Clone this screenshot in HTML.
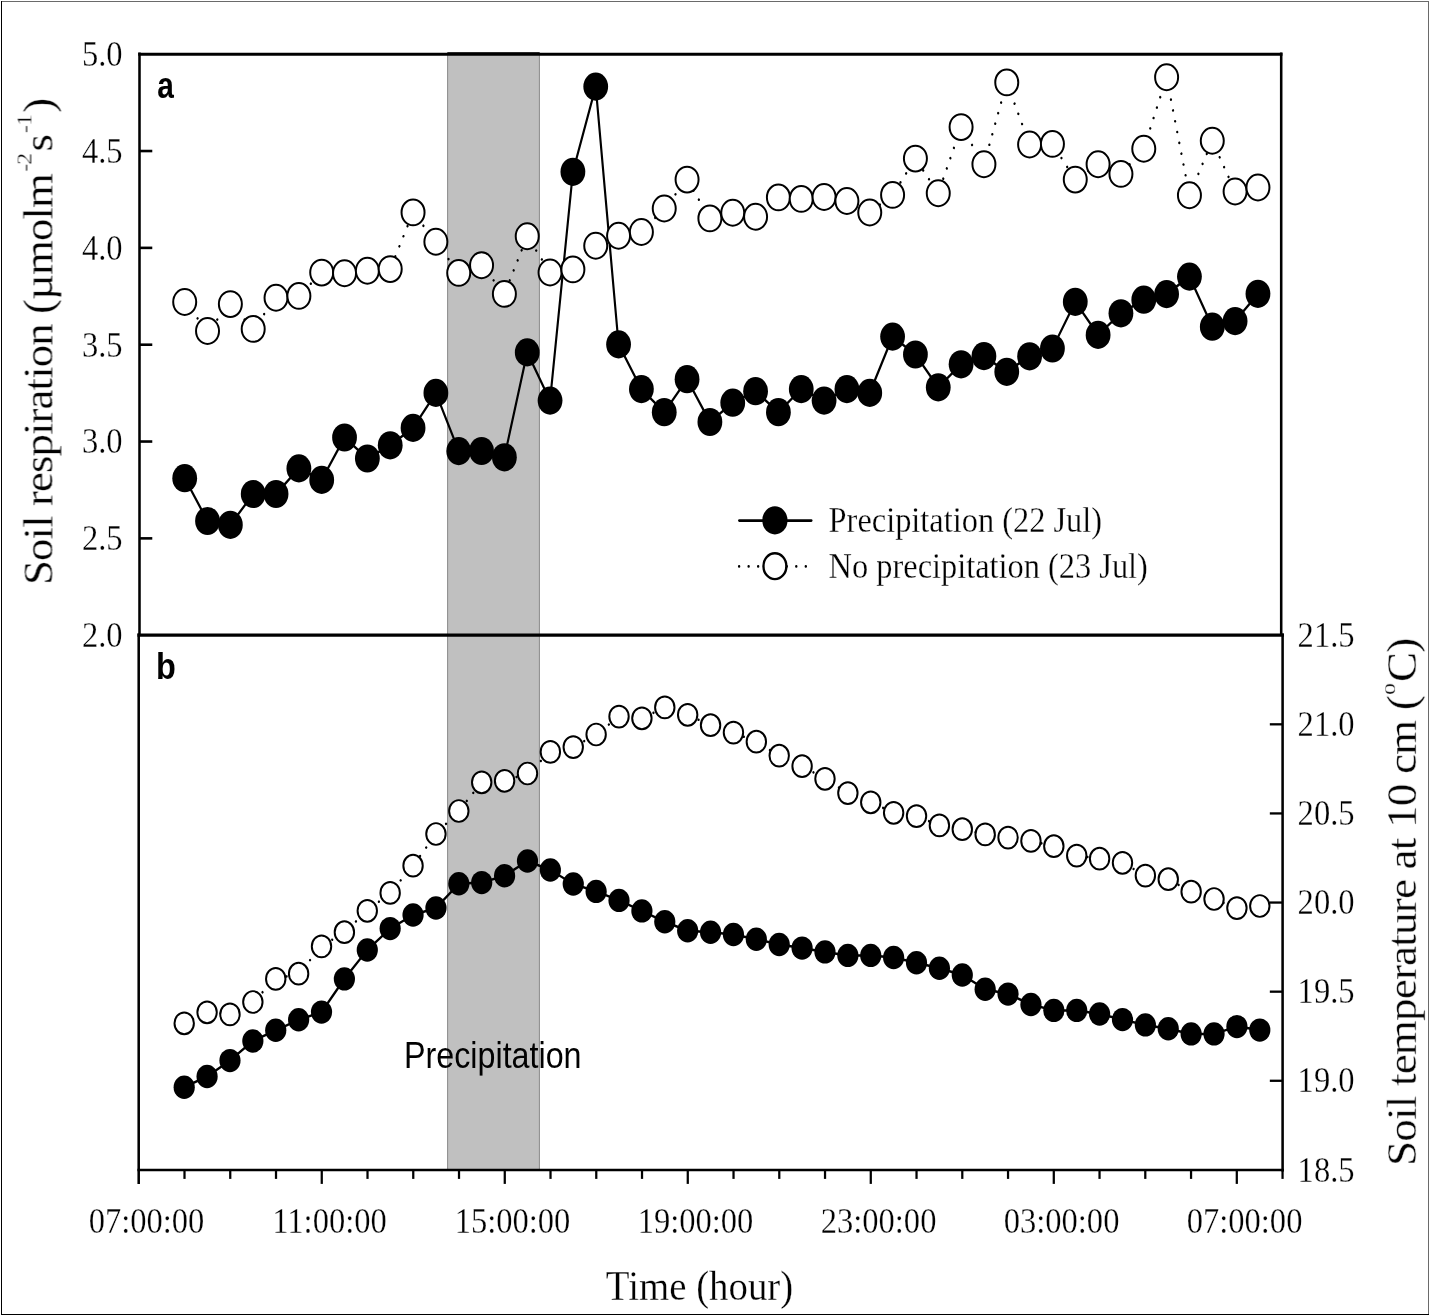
<!DOCTYPE html>
<html lang="en">
<head>
<meta charset="utf-8">
<title>Soil respiration and temperature</title>
<style>
html,body{margin:0;padding:0;background:#fff;}
body{width:1430px;height:1316px;overflow:hidden;font-family:"Liberation Serif",serif;}
svg{display:block;}
</style>
</head>
<body>
<svg width="1430" height="1316" viewBox="0 0 1430 1316">
<rect x="0" y="0" width="1430" height="1316" fill="#fff"/>
<rect x="1" y="1" width="1428" height="1" fill="#6a6a6a"/>
<rect x="1428" y="1" width="1" height="1314" fill="#6a6a6a"/>
<rect x="1" y="1" width="1" height="1314" fill="#000"/>
<rect x="1" y="1314" width="1428" height="1" fill="#000"/>
<rect x="447.3" y="54.2" width="92.4" height="1115.7" fill="#c0c0c0"/>
<rect x="447.1" y="54.2" width="1" height="1115.7" fill="#8c8c8c"/>
<rect x="538.9" y="54.2" width="1" height="1115.7" fill="#8c8c8c"/>
<rect x="447.3" y="52" width="92.4" height="0.9" fill="#222"/>
<g transform="scale(0.86,1)"><polyline points="214.77,478.2 241.32,521 267.87,524.8 294.42,494 320.98,494 347.53,468.4 374.08,479.9 400.63,437.5 427.19,458.5 453.74,445.3 480.29,427.9 506.84,392.9 533.4,451.1 559.95,451 586.5,457.3 613.05,352.4 639.6,400.6 666.16,171.8 692.71,86.6 719.26,344.4 745.81,389.1 772.37,412.2 798.92,379.2 825.47,422 852.02,402.7 878.58,391.2 905.13,412.2 931.68,389.1 958.23,400.6 984.78,389.1 1011.34,392.9 1037.89,336.6 1064.44,354.5 1090.99,387.4 1117.55,364.3 1144.1,356.1 1170.65,371.8 1197.2,356.3 1223.76,348.5 1250.31,301.8 1276.86,334.9 1303.41,313.3 1329.97,299.7 1356.52,294.1 1383.07,276.6 1409.62,326.7 1436.17,321.1 1462.73,293.8" fill="none" stroke="#000" stroke-width="2.5" stroke-linejoin="round"/></g>
<g fill="#000">
<ellipse cx="184.7" cy="478.2" rx="12.4" ry="14.1"/>
<ellipse cx="207.53" cy="521" rx="12.4" ry="14.1"/>
<ellipse cx="230.37" cy="524.8" rx="12.4" ry="14.1"/>
<ellipse cx="253.2" cy="494" rx="12.4" ry="14.1"/>
<ellipse cx="276.04" cy="494" rx="12.4" ry="14.1"/>
<ellipse cx="298.88" cy="468.4" rx="12.4" ry="14.1"/>
<ellipse cx="321.71" cy="479.9" rx="12.4" ry="14.1"/>
<ellipse cx="344.54" cy="437.5" rx="12.4" ry="14.1"/>
<ellipse cx="367.38" cy="458.5" rx="12.4" ry="14.1"/>
<ellipse cx="390.22" cy="445.3" rx="12.4" ry="14.1"/>
<ellipse cx="413.05" cy="427.9" rx="12.4" ry="14.1"/>
<ellipse cx="435.88" cy="392.9" rx="12.4" ry="14.1"/>
<ellipse cx="458.72" cy="451.1" rx="12.4" ry="14.1"/>
<ellipse cx="481.56" cy="451" rx="12.4" ry="14.1"/>
<ellipse cx="504.39" cy="457.3" rx="12.4" ry="14.1"/>
<ellipse cx="527.23" cy="352.4" rx="12.4" ry="14.1"/>
<ellipse cx="550.06" cy="400.6" rx="12.4" ry="14.1"/>
<ellipse cx="572.89" cy="171.8" rx="12.4" ry="14.1"/>
<ellipse cx="595.73" cy="86.6" rx="12.4" ry="14.1"/>
<ellipse cx="618.57" cy="344.4" rx="12.4" ry="14.1"/>
<ellipse cx="641.4" cy="389.1" rx="12.4" ry="14.1"/>
<ellipse cx="664.24" cy="412.2" rx="12.4" ry="14.1"/>
<ellipse cx="687.07" cy="379.2" rx="12.4" ry="14.1"/>
<ellipse cx="709.9" cy="422" rx="12.4" ry="14.1"/>
<ellipse cx="732.74" cy="402.7" rx="12.4" ry="14.1"/>
<ellipse cx="755.58" cy="391.2" rx="12.4" ry="14.1"/>
<ellipse cx="778.41" cy="412.2" rx="12.4" ry="14.1"/>
<ellipse cx="801.25" cy="389.1" rx="12.4" ry="14.1"/>
<ellipse cx="824.08" cy="400.6" rx="12.4" ry="14.1"/>
<ellipse cx="846.91" cy="389.1" rx="12.4" ry="14.1"/>
<ellipse cx="869.75" cy="392.9" rx="12.4" ry="14.1"/>
<ellipse cx="892.59" cy="336.6" rx="12.4" ry="14.1"/>
<ellipse cx="915.42" cy="354.5" rx="12.4" ry="14.1"/>
<ellipse cx="938.26" cy="387.4" rx="12.4" ry="14.1"/>
<ellipse cx="961.09" cy="364.3" rx="12.4" ry="14.1"/>
<ellipse cx="983.92" cy="356.1" rx="12.4" ry="14.1"/>
<ellipse cx="1006.76" cy="371.8" rx="12.4" ry="14.1"/>
<ellipse cx="1029.6" cy="356.3" rx="12.4" ry="14.1"/>
<ellipse cx="1052.43" cy="348.5" rx="12.4" ry="14.1"/>
<ellipse cx="1075.27" cy="301.8" rx="12.4" ry="14.1"/>
<ellipse cx="1098.1" cy="334.9" rx="12.4" ry="14.1"/>
<ellipse cx="1120.93" cy="313.3" rx="12.4" ry="14.1"/>
<ellipse cx="1143.77" cy="299.7" rx="12.4" ry="14.1"/>
<ellipse cx="1166.61" cy="294.1" rx="12.4" ry="14.1"/>
<ellipse cx="1189.44" cy="276.6" rx="12.4" ry="14.1"/>
<ellipse cx="1212.28" cy="326.7" rx="12.4" ry="14.1"/>
<ellipse cx="1235.11" cy="321.1" rx="12.4" ry="14.1"/>
<ellipse cx="1257.95" cy="293.8" rx="12.4" ry="14.1"/>
</g>
<g transform="scale(0.86,1)"><polyline points="214.19,1087.2 240.8,1076.5 267.41,1060.6 294.02,1041 320.63,1030.3 347.24,1019.8 373.85,1012.1 400.46,978.9 427.07,950 453.68,928.6 480.29,915 506.9,908 533.51,883.8 560.12,882.6 586.73,875.7 613.34,861 639.95,870 666.56,884 693.17,891.4 719.78,900.4 746.4,910.9 773.01,921.8 799.62,930.8 826.23,932.3 852.84,934.5 879.45,939.3 906.06,944.5 932.67,948.1 959.28,951.9 985.89,955.4 1012.5,955.4 1039.11,957.5 1065.72,962.8 1092.33,968.2 1118.94,975 1145.55,989.2 1172.16,994.1 1198.77,1004.5 1225.38,1010.4 1251.99,1010.4 1278.6,1014 1305.22,1019.6 1331.83,1024.9 1358.44,1028.7 1385.05,1033.9 1411.66,1033.9 1438.27,1026.6 1464.88,1030.1" fill="none" stroke="#000" stroke-width="2.5" stroke-linejoin="round"/></g>
<g fill="#000">
<ellipse cx="184.2" cy="1087.2" rx="10.6" ry="11.7"/>
<ellipse cx="207.08" cy="1076.5" rx="10.6" ry="11.7"/>
<ellipse cx="229.97" cy="1060.6" rx="10.6" ry="11.7"/>
<ellipse cx="252.85" cy="1041" rx="10.6" ry="11.7"/>
<ellipse cx="275.74" cy="1030.3" rx="10.6" ry="11.7"/>
<ellipse cx="298.62" cy="1019.8" rx="10.6" ry="11.7"/>
<ellipse cx="321.51" cy="1012.1" rx="10.6" ry="11.7"/>
<ellipse cx="344.39" cy="978.9" rx="10.6" ry="11.7"/>
<ellipse cx="367.28" cy="950" rx="10.6" ry="11.7"/>
<ellipse cx="390.16" cy="928.6" rx="10.6" ry="11.7"/>
<ellipse cx="413.05" cy="915" rx="10.6" ry="11.7"/>
<ellipse cx="435.94" cy="908" rx="10.6" ry="11.7"/>
<ellipse cx="458.82" cy="883.8" rx="10.6" ry="11.7"/>
<ellipse cx="481.7" cy="882.6" rx="10.6" ry="11.7"/>
<ellipse cx="504.59" cy="875.7" rx="10.6" ry="11.7"/>
<ellipse cx="527.48" cy="861" rx="10.6" ry="11.7"/>
<ellipse cx="550.36" cy="870" rx="10.6" ry="11.7"/>
<ellipse cx="573.25" cy="884" rx="10.6" ry="11.7"/>
<ellipse cx="596.13" cy="891.4" rx="10.6" ry="11.7"/>
<ellipse cx="619.02" cy="900.4" rx="10.6" ry="11.7"/>
<ellipse cx="641.9" cy="910.9" rx="10.6" ry="11.7"/>
<ellipse cx="664.79" cy="921.8" rx="10.6" ry="11.7"/>
<ellipse cx="687.67" cy="930.8" rx="10.6" ry="11.7"/>
<ellipse cx="710.56" cy="932.3" rx="10.6" ry="11.7"/>
<ellipse cx="733.44" cy="934.5" rx="10.6" ry="11.7"/>
<ellipse cx="756.33" cy="939.3" rx="10.6" ry="11.7"/>
<ellipse cx="779.21" cy="944.5" rx="10.6" ry="11.7"/>
<ellipse cx="802.1" cy="948.1" rx="10.6" ry="11.7"/>
<ellipse cx="824.98" cy="951.9" rx="10.6" ry="11.7"/>
<ellipse cx="847.87" cy="955.4" rx="10.6" ry="11.7"/>
<ellipse cx="870.75" cy="955.4" rx="10.6" ry="11.7"/>
<ellipse cx="893.63" cy="957.5" rx="10.6" ry="11.7"/>
<ellipse cx="916.52" cy="962.8" rx="10.6" ry="11.7"/>
<ellipse cx="939.4" cy="968.2" rx="10.6" ry="11.7"/>
<ellipse cx="962.29" cy="975" rx="10.6" ry="11.7"/>
<ellipse cx="985.17" cy="989.2" rx="10.6" ry="11.7"/>
<ellipse cx="1008.06" cy="994.1" rx="10.6" ry="11.7"/>
<ellipse cx="1030.94" cy="1004.5" rx="10.6" ry="11.7"/>
<ellipse cx="1053.83" cy="1010.4" rx="10.6" ry="11.7"/>
<ellipse cx="1076.72" cy="1010.4" rx="10.6" ry="11.7"/>
<ellipse cx="1099.6" cy="1014" rx="10.6" ry="11.7"/>
<ellipse cx="1122.49" cy="1019.6" rx="10.6" ry="11.7"/>
<ellipse cx="1145.37" cy="1024.9" rx="10.6" ry="11.7"/>
<ellipse cx="1168.26" cy="1028.7" rx="10.6" ry="11.7"/>
<ellipse cx="1191.14" cy="1033.9" rx="10.6" ry="11.7"/>
<ellipse cx="1214.03" cy="1033.9" rx="10.6" ry="11.7"/>
<ellipse cx="1236.91" cy="1026.6" rx="10.6" ry="11.7"/>
<ellipse cx="1259.8" cy="1030.1" rx="10.6" ry="11.7"/>
</g>
<g transform="scale(0.86,1)"><polyline points="214.77,302 241.32,331 267.87,304.1 294.42,328.9 320.98,297.8 347.53,295.9 374.08,272.6 400.63,273.3 427.19,270.8 453.74,269.1 480.29,212.4 506.84,241.8 533.4,272.9 559.95,265.2 586.5,293.9 613.05,236.2 639.6,272.5 666.16,269.4 692.71,245.7 719.26,235.8 745.81,232 772.37,208.5 798.92,179.6 825.47,218.4 852.02,212.7 878.58,216.7 905.13,197.4 931.68,198.9 958.23,197 984.78,201 1011.34,212.5 1037.89,194.9 1064.44,158.6 1090.99,193.2 1117.55,127.1 1144.1,164.3 1170.65,82.4 1197.2,144.5 1223.76,143.9 1250.31,179.6 1276.86,164.3 1303.41,173.9 1329.97,148.7 1356.52,77.2 1383.07,195.3 1409.62,140.8 1436.17,191.5 1462.73,187.5" fill="none" stroke="#000" stroke-width="2.6" stroke-linecap="round" stroke-dasharray="0.01 11.07" stroke-dashoffset="0"/></g>
<g fill="#fff" stroke="#000" stroke-width="1.98">
<ellipse cx="184.7" cy="302" rx="11.5" ry="12.95"/>
<ellipse cx="207.53" cy="331" rx="11.5" ry="12.95"/>
<ellipse cx="230.37" cy="304.1" rx="11.5" ry="12.95"/>
<ellipse cx="253.2" cy="328.9" rx="11.5" ry="12.95"/>
<ellipse cx="276.04" cy="297.8" rx="11.5" ry="12.95"/>
<ellipse cx="298.88" cy="295.9" rx="11.5" ry="12.95"/>
<ellipse cx="321.71" cy="272.6" rx="11.5" ry="12.95"/>
<ellipse cx="344.54" cy="273.3" rx="11.5" ry="12.95"/>
<ellipse cx="367.38" cy="270.8" rx="11.5" ry="12.95"/>
<ellipse cx="390.22" cy="269.1" rx="11.5" ry="12.95"/>
<ellipse cx="413.05" cy="212.4" rx="11.5" ry="12.95"/>
<ellipse cx="435.88" cy="241.8" rx="11.5" ry="12.95"/>
<ellipse cx="458.72" cy="272.9" rx="11.5" ry="12.95"/>
<ellipse cx="481.56" cy="265.2" rx="11.5" ry="12.95"/>
<ellipse cx="504.39" cy="293.9" rx="11.5" ry="12.95"/>
<ellipse cx="527.23" cy="236.2" rx="11.5" ry="12.95"/>
<ellipse cx="550.06" cy="272.5" rx="11.5" ry="12.95"/>
<ellipse cx="572.89" cy="269.4" rx="11.5" ry="12.95"/>
<ellipse cx="595.73" cy="245.7" rx="11.5" ry="12.95"/>
<ellipse cx="618.57" cy="235.8" rx="11.5" ry="12.95"/>
<ellipse cx="641.4" cy="232" rx="11.5" ry="12.95"/>
<ellipse cx="664.24" cy="208.5" rx="11.5" ry="12.95"/>
<ellipse cx="687.07" cy="179.6" rx="11.5" ry="12.95"/>
<ellipse cx="709.9" cy="218.4" rx="11.5" ry="12.95"/>
<ellipse cx="732.74" cy="212.7" rx="11.5" ry="12.95"/>
<ellipse cx="755.58" cy="216.7" rx="11.5" ry="12.95"/>
<ellipse cx="778.41" cy="197.4" rx="11.5" ry="12.95"/>
<ellipse cx="801.25" cy="198.9" rx="11.5" ry="12.95"/>
<ellipse cx="824.08" cy="197" rx="11.5" ry="12.95"/>
<ellipse cx="846.91" cy="201" rx="11.5" ry="12.95"/>
<ellipse cx="869.75" cy="212.5" rx="11.5" ry="12.95"/>
<ellipse cx="892.59" cy="194.9" rx="11.5" ry="12.95"/>
<ellipse cx="915.42" cy="158.6" rx="11.5" ry="12.95"/>
<ellipse cx="938.26" cy="193.2" rx="11.5" ry="12.95"/>
<ellipse cx="961.09" cy="127.1" rx="11.5" ry="12.95"/>
<ellipse cx="983.92" cy="164.3" rx="11.5" ry="12.95"/>
<ellipse cx="1006.76" cy="82.4" rx="11.5" ry="12.95"/>
<ellipse cx="1029.6" cy="144.5" rx="11.5" ry="12.95"/>
<ellipse cx="1052.43" cy="143.9" rx="11.5" ry="12.95"/>
<ellipse cx="1075.27" cy="179.6" rx="11.5" ry="12.95"/>
<ellipse cx="1098.1" cy="164.3" rx="11.5" ry="12.95"/>
<ellipse cx="1120.93" cy="173.9" rx="11.5" ry="12.95"/>
<ellipse cx="1143.77" cy="148.7" rx="11.5" ry="12.95"/>
<ellipse cx="1166.61" cy="77.2" rx="11.5" ry="12.95"/>
<ellipse cx="1189.44" cy="195.3" rx="11.5" ry="12.95"/>
<ellipse cx="1212.28" cy="140.8" rx="11.5" ry="12.95"/>
<ellipse cx="1235.11" cy="191.5" rx="11.5" ry="12.95"/>
<ellipse cx="1257.95" cy="187.5" rx="11.5" ry="12.95"/>
</g>
<g transform="scale(0.86,1)"><polyline points="214.19,1023.3 240.8,1012.3 267.41,1014.4 294.02,1002 320.63,978.9 347.24,973.7 373.85,946.4 400.46,932.2 427.07,910.8 453.68,892.9 480.29,865.7 506.9,834 533.51,811 560.12,782.3 586.73,780.8 613.34,773.5 639.95,751.9 666.56,747.1 693.17,734.5 719.78,716.6 746.4,718.3 773.01,707.4 799.62,714.8 826.23,725.2 852.84,732.6 879.45,741.7 906.06,755.7 932.67,766.2 959.28,778.8 985.89,793.1 1012.5,802.3 1039.11,812.8 1065.72,816.1 1092.33,825.4 1118.94,829.2 1145.55,834.4 1172.16,837.6 1198.77,840.9 1225.38,846.2 1251.99,855.6 1278.6,858.7 1305.22,862.8 1331.83,875.6 1358.44,879.2 1385.05,891.7 1411.66,899 1438.27,908.1 1464.88,906" fill="none" stroke="#000" stroke-width="2.6" stroke-linecap="round" stroke-dasharray="0.01 11.07" stroke-dashoffset="0"/></g>
<g fill="#fff" stroke="#000" stroke-width="1.98">
<ellipse cx="184.2" cy="1023.3" rx="9.7" ry="10.88"/>
<ellipse cx="207.08" cy="1012.3" rx="9.7" ry="10.88"/>
<ellipse cx="229.97" cy="1014.4" rx="9.7" ry="10.88"/>
<ellipse cx="252.85" cy="1002" rx="9.7" ry="10.88"/>
<ellipse cx="275.74" cy="978.9" rx="9.7" ry="10.88"/>
<ellipse cx="298.62" cy="973.7" rx="9.7" ry="10.88"/>
<ellipse cx="321.51" cy="946.4" rx="9.7" ry="10.88"/>
<ellipse cx="344.39" cy="932.2" rx="9.7" ry="10.88"/>
<ellipse cx="367.28" cy="910.8" rx="9.7" ry="10.88"/>
<ellipse cx="390.16" cy="892.9" rx="9.7" ry="10.88"/>
<ellipse cx="413.05" cy="865.7" rx="9.7" ry="10.88"/>
<ellipse cx="435.94" cy="834" rx="9.7" ry="10.88"/>
<ellipse cx="458.82" cy="811" rx="9.7" ry="10.88"/>
<ellipse cx="481.7" cy="782.3" rx="9.7" ry="10.88"/>
<ellipse cx="504.59" cy="780.8" rx="9.7" ry="10.88"/>
<ellipse cx="527.48" cy="773.5" rx="9.7" ry="10.88"/>
<ellipse cx="550.36" cy="751.9" rx="9.7" ry="10.88"/>
<ellipse cx="573.25" cy="747.1" rx="9.7" ry="10.88"/>
<ellipse cx="596.13" cy="734.5" rx="9.7" ry="10.88"/>
<ellipse cx="619.02" cy="716.6" rx="9.7" ry="10.88"/>
<ellipse cx="641.9" cy="718.3" rx="9.7" ry="10.88"/>
<ellipse cx="664.79" cy="707.4" rx="9.7" ry="10.88"/>
<ellipse cx="687.67" cy="714.8" rx="9.7" ry="10.88"/>
<ellipse cx="710.56" cy="725.2" rx="9.7" ry="10.88"/>
<ellipse cx="733.44" cy="732.6" rx="9.7" ry="10.88"/>
<ellipse cx="756.33" cy="741.7" rx="9.7" ry="10.88"/>
<ellipse cx="779.21" cy="755.7" rx="9.7" ry="10.88"/>
<ellipse cx="802.1" cy="766.2" rx="9.7" ry="10.88"/>
<ellipse cx="824.98" cy="778.8" rx="9.7" ry="10.88"/>
<ellipse cx="847.87" cy="793.1" rx="9.7" ry="10.88"/>
<ellipse cx="870.75" cy="802.3" rx="9.7" ry="10.88"/>
<ellipse cx="893.63" cy="812.8" rx="9.7" ry="10.88"/>
<ellipse cx="916.52" cy="816.1" rx="9.7" ry="10.88"/>
<ellipse cx="939.4" cy="825.4" rx="9.7" ry="10.88"/>
<ellipse cx="962.29" cy="829.2" rx="9.7" ry="10.88"/>
<ellipse cx="985.17" cy="834.4" rx="9.7" ry="10.88"/>
<ellipse cx="1008.06" cy="837.6" rx="9.7" ry="10.88"/>
<ellipse cx="1030.94" cy="840.9" rx="9.7" ry="10.88"/>
<ellipse cx="1053.83" cy="846.2" rx="9.7" ry="10.88"/>
<ellipse cx="1076.72" cy="855.6" rx="9.7" ry="10.88"/>
<ellipse cx="1099.6" cy="858.7" rx="9.7" ry="10.88"/>
<ellipse cx="1122.49" cy="862.8" rx="9.7" ry="10.88"/>
<ellipse cx="1145.37" cy="875.6" rx="9.7" ry="10.88"/>
<ellipse cx="1168.26" cy="879.2" rx="9.7" ry="10.88"/>
<ellipse cx="1191.14" cy="891.7" rx="9.7" ry="10.88"/>
<ellipse cx="1214.03" cy="899" rx="9.7" ry="10.88"/>
<ellipse cx="1236.91" cy="908.1" rx="9.7" ry="10.88"/>
<ellipse cx="1259.8" cy="906" rx="9.7" ry="10.88"/>
</g>
<g transform="scale(0.86,1)"><line x1="859.65" y1="520.6" x2="943.37" y2="520.6" stroke="#000" stroke-width="2.8" stroke-linecap="round"/><line x1="859.42" y1="566.4" x2="943.6" y2="566.4" stroke="#000" stroke-width="2.8" stroke-linecap="round" stroke-dasharray="0.01 11.07"/></g>
<ellipse cx="774.9" cy="520.4" rx="12.6" ry="14.05" fill="#000"/>
<ellipse cx="774.9" cy="566.2" rx="11.45" ry="12.9" fill="#fff" stroke="#000" stroke-width="2.4"/>
<g stroke="#000" fill="none" stroke-linecap="butt">
<line x1="139.5" y1="52.6" x2="139.5" y2="635.2" stroke-width="2.55"/>
<line x1="138.7" y1="633.6" x2="138.7" y2="1183.9" stroke-width="2.55"/>
<line x1="1281.2" y1="52.6" x2="1281.2" y2="635.2" stroke-width="2.55"/>
<line x1="1282.6" y1="633.6" x2="1282.6" y2="1171.5" stroke-width="2.55"/>
<line x1="138.22" y1="54.2" x2="1282.48" y2="54.2" stroke-width="2.9"/>
<line x1="137.42" y1="635.2" x2="1283.88" y2="635.2" stroke-width="3.2"/>
<line x1="137.42" y1="1169.9" x2="1283.88" y2="1169.9" stroke-width="2.5"/>
<line x1="139.5" y1="151.03" x2="152.28" y2="151.03" stroke-width="2.6"/>
<line x1="139.5" y1="247.87" x2="152.28" y2="247.87" stroke-width="2.6"/>
<line x1="139.5" y1="344.7" x2="152.28" y2="344.7" stroke-width="2.6"/>
<line x1="139.5" y1="441.53" x2="152.28" y2="441.53" stroke-width="2.6"/>
<line x1="139.5" y1="538.37" x2="152.28" y2="538.37" stroke-width="2.6"/>
<line x1="1282.6" y1="724.32" x2="1269.82" y2="724.32" stroke-width="2.3"/>
<line x1="1282.6" y1="813.43" x2="1269.82" y2="813.43" stroke-width="2.3"/>
<line x1="1282.6" y1="902.55" x2="1269.82" y2="902.55" stroke-width="2.3"/>
<line x1="1282.6" y1="991.67" x2="1269.82" y2="991.67" stroke-width="2.3"/>
<line x1="1282.6" y1="1080.78" x2="1269.82" y2="1080.78" stroke-width="2.3"/>
<line x1="184.5" y1="1169.9" x2="184.5" y2="1178.9" stroke-width="2.25"/>
<line x1="230.25" y1="1169.9" x2="230.25" y2="1178.9" stroke-width="2.25"/>
<line x1="276.01" y1="1169.9" x2="276.01" y2="1178.9" stroke-width="2.25"/>
<line x1="321.76" y1="1169.9" x2="321.76" y2="1183.9" stroke-width="2.25"/>
<line x1="367.51" y1="1169.9" x2="367.51" y2="1178.9" stroke-width="2.25"/>
<line x1="413.26" y1="1169.9" x2="413.26" y2="1178.9" stroke-width="2.25"/>
<line x1="459.01" y1="1169.9" x2="459.01" y2="1178.9" stroke-width="2.25"/>
<line x1="504.77" y1="1169.9" x2="504.77" y2="1183.9" stroke-width="2.25"/>
<line x1="550.52" y1="1169.9" x2="550.52" y2="1178.9" stroke-width="2.25"/>
<line x1="596.27" y1="1169.9" x2="596.27" y2="1178.9" stroke-width="2.25"/>
<line x1="642.02" y1="1169.9" x2="642.02" y2="1178.9" stroke-width="2.25"/>
<line x1="687.77" y1="1169.9" x2="687.77" y2="1183.9" stroke-width="2.25"/>
<line x1="733.53" y1="1169.9" x2="733.53" y2="1178.9" stroke-width="2.25"/>
<line x1="779.28" y1="1169.9" x2="779.28" y2="1178.9" stroke-width="2.25"/>
<line x1="825.03" y1="1169.9" x2="825.03" y2="1178.9" stroke-width="2.25"/>
<line x1="870.78" y1="1169.9" x2="870.78" y2="1183.9" stroke-width="2.25"/>
<line x1="916.53" y1="1169.9" x2="916.53" y2="1178.9" stroke-width="2.25"/>
<line x1="962.29" y1="1169.9" x2="962.29" y2="1178.9" stroke-width="2.25"/>
<line x1="1008.04" y1="1169.9" x2="1008.04" y2="1178.9" stroke-width="2.25"/>
<line x1="1053.79" y1="1169.9" x2="1053.79" y2="1183.9" stroke-width="2.25"/>
<line x1="1099.54" y1="1169.9" x2="1099.54" y2="1178.9" stroke-width="2.25"/>
<line x1="1145.29" y1="1169.9" x2="1145.29" y2="1178.9" stroke-width="2.25"/>
<line x1="1191.05" y1="1169.9" x2="1191.05" y2="1178.9" stroke-width="2.25"/>
<line x1="1236.8" y1="1169.9" x2="1236.8" y2="1183.9" stroke-width="2.25"/>
<line x1="1282.55" y1="1169.9" x2="1282.55" y2="1178.9" stroke-width="2.25"/>
</g>
<g opacity="0.999">
<text transform="translate(122.6,66.2) scale(0.8920,1.0000)" font-family="'Liberation Serif', serif" font-size="36.5" font-weight="normal" text-anchor="end" fill="#000" stroke="#fff" stroke-width="0.28">5.0</text>
<text transform="translate(122.6,163) scale(0.8920,1.0000)" font-family="'Liberation Serif', serif" font-size="36.5" font-weight="normal" text-anchor="end" fill="#000" stroke="#fff" stroke-width="0.28">4.5</text>
<text transform="translate(122.6,259.8) scale(0.8920,1.0000)" font-family="'Liberation Serif', serif" font-size="36.5" font-weight="normal" text-anchor="end" fill="#000" stroke="#fff" stroke-width="0.28">4.0</text>
<text transform="translate(122.6,356.6) scale(0.8920,1.0000)" font-family="'Liberation Serif', serif" font-size="36.5" font-weight="normal" text-anchor="end" fill="#000" stroke="#fff" stroke-width="0.28">3.5</text>
<text transform="translate(122.6,453.4) scale(0.8920,1.0000)" font-family="'Liberation Serif', serif" font-size="36.5" font-weight="normal" text-anchor="end" fill="#000" stroke="#fff" stroke-width="0.28">3.0</text>
<text transform="translate(122.6,550.2) scale(0.8920,1.0000)" font-family="'Liberation Serif', serif" font-size="36.5" font-weight="normal" text-anchor="end" fill="#000" stroke="#fff" stroke-width="0.28">2.5</text>
<text transform="translate(122.6,647) scale(0.8920,1.0000)" font-family="'Liberation Serif', serif" font-size="36.5" font-weight="normal" text-anchor="end" fill="#000" stroke="#fff" stroke-width="0.28">2.0</text>
<text transform="translate(1297.6,646.8) scale(0.8920,1.0000)" font-family="'Liberation Serif', serif" font-size="36.5" font-weight="normal" text-anchor="start" fill="#000" stroke="#fff" stroke-width="0.28">21.5</text>
<text transform="translate(1297.6,735.92) scale(0.8920,1.0000)" font-family="'Liberation Serif', serif" font-size="36.5" font-weight="normal" text-anchor="start" fill="#000" stroke="#fff" stroke-width="0.28">21.0</text>
<text transform="translate(1297.6,825.03) scale(0.8920,1.0000)" font-family="'Liberation Serif', serif" font-size="36.5" font-weight="normal" text-anchor="start" fill="#000" stroke="#fff" stroke-width="0.28">20.5</text>
<text transform="translate(1297.6,914.15) scale(0.8920,1.0000)" font-family="'Liberation Serif', serif" font-size="36.5" font-weight="normal" text-anchor="start" fill="#000" stroke="#fff" stroke-width="0.28">20.0</text>
<text transform="translate(1297.6,1003.27) scale(0.8920,1.0000)" font-family="'Liberation Serif', serif" font-size="36.5" font-weight="normal" text-anchor="start" fill="#000" stroke="#fff" stroke-width="0.28">19.5</text>
<text transform="translate(1297.6,1092.38) scale(0.8920,1.0000)" font-family="'Liberation Serif', serif" font-size="36.5" font-weight="normal" text-anchor="start" fill="#000" stroke="#fff" stroke-width="0.28">19.0</text>
<text transform="translate(1297.6,1181.5) scale(0.8920,1.0000)" font-family="'Liberation Serif', serif" font-size="36.5" font-weight="normal" text-anchor="start" fill="#000" stroke="#fff" stroke-width="0.28">18.5</text>
<text transform="translate(146.5,1232.6) scale(0.8920,1.0000)" font-family="'Liberation Serif', serif" font-size="36.5" font-weight="normal" text-anchor="middle" fill="#000" stroke="#fff" stroke-width="0.28">07:00:00</text>
<text transform="translate(329.51,1232.6) scale(0.8920,1.0000)" font-family="'Liberation Serif', serif" font-size="36.5" font-weight="normal" text-anchor="middle" fill="#000" stroke="#fff" stroke-width="0.28">11:00:00</text>
<text transform="translate(512.52,1232.6) scale(0.8920,1.0000)" font-family="'Liberation Serif', serif" font-size="36.5" font-weight="normal" text-anchor="middle" fill="#000" stroke="#fff" stroke-width="0.28">15:00:00</text>
<text transform="translate(695.52,1232.6) scale(0.8920,1.0000)" font-family="'Liberation Serif', serif" font-size="36.5" font-weight="normal" text-anchor="middle" fill="#000" stroke="#fff" stroke-width="0.28">19:00:00</text>
<text transform="translate(878.53,1232.6) scale(0.8920,1.0000)" font-family="'Liberation Serif', serif" font-size="36.5" font-weight="normal" text-anchor="middle" fill="#000" stroke="#fff" stroke-width="0.28">23:00:00</text>
<text transform="translate(1061.54,1232.6) scale(0.8920,1.0000)" font-family="'Liberation Serif', serif" font-size="36.5" font-weight="normal" text-anchor="middle" fill="#000" stroke="#fff" stroke-width="0.28">03:00:00</text>
<text transform="translate(1244.55,1232.6) scale(0.8920,1.0000)" font-family="'Liberation Serif', serif" font-size="36.5" font-weight="normal" text-anchor="middle" fill="#000" stroke="#fff" stroke-width="0.28">07:00:00</text>
<text transform="translate(605.8,1300.3) scale(0.9040,1.0000)" font-family="'Liberation Serif', serif" font-size="43" font-weight="normal" text-anchor="start" fill="#000" stroke="#fff" stroke-width="0.28">Time (hour)</text>
<text transform="translate(828.6,531.8) scale(0.9000,1.0000)" font-family="'Liberation Serif', serif" font-size="36" font-weight="normal" text-anchor="start" fill="#000" stroke="#fff" stroke-width="0.28">Precipitation (22 Jul)</text>
<text transform="translate(828.6,578.4) scale(0.9000,1.0000)" font-family="'Liberation Serif', serif" font-size="36" font-weight="normal" text-anchor="start" fill="#000" stroke="#fff" stroke-width="0.28">No precipitation (23 Jul)</text>
<text transform="translate(404,1067.6) scale(0.8940,1.0000)" font-family="'Liberation Sans', sans-serif" font-size="36.1" font-weight="normal" text-anchor="start" fill="#000">Precipitation</text>
<text transform="translate(157.2,97.6) scale(0.8200,1.0000)" font-family="'Liberation Sans', sans-serif" font-size="36.5" font-weight="bold" text-anchor="start" fill="#000">a</text>
<text transform="translate(156,678.8) scale(0.8900,1.0000)" font-family="'Liberation Sans', sans-serif" font-size="36.5" font-weight="bold" text-anchor="start" fill="#000">b</text>
<text transform="translate(52,585) rotate(-90) scale(1.0450,0.9650)" font-family="'Liberation Serif', serif" font-size="43" font-weight="normal" text-anchor="start" fill="#000" letter-spacing="-0.9" stroke="#fff" stroke-width="0.28">Soil respiration (&#181;molm<tspan font-size="22.79" dy="-21.07" dx="2.1">-2</tspan><tspan dy="21.07" dx="2.1">s</tspan><tspan font-size="22.79" dy="-21.07" dx="2.1">-1</tspan><tspan dy="21.07" dx="2.1">)</tspan></text>
<text transform="translate(1415.6,1165.85) rotate(-90) scale(1.0450,0.9650)" font-family="'Liberation Serif', serif" font-size="43" font-weight="normal" text-anchor="start" fill="#000" letter-spacing="-0.72" stroke="#fff" stroke-width="0.28">Soil temperature at 10 cm (<tspan font-size="22.79" dy="-21.07" dx="1.1">o</tspan><tspan dy="21.07" dx="1.7">C)</tspan></text>
</g>
</svg>
</body>
</html>
